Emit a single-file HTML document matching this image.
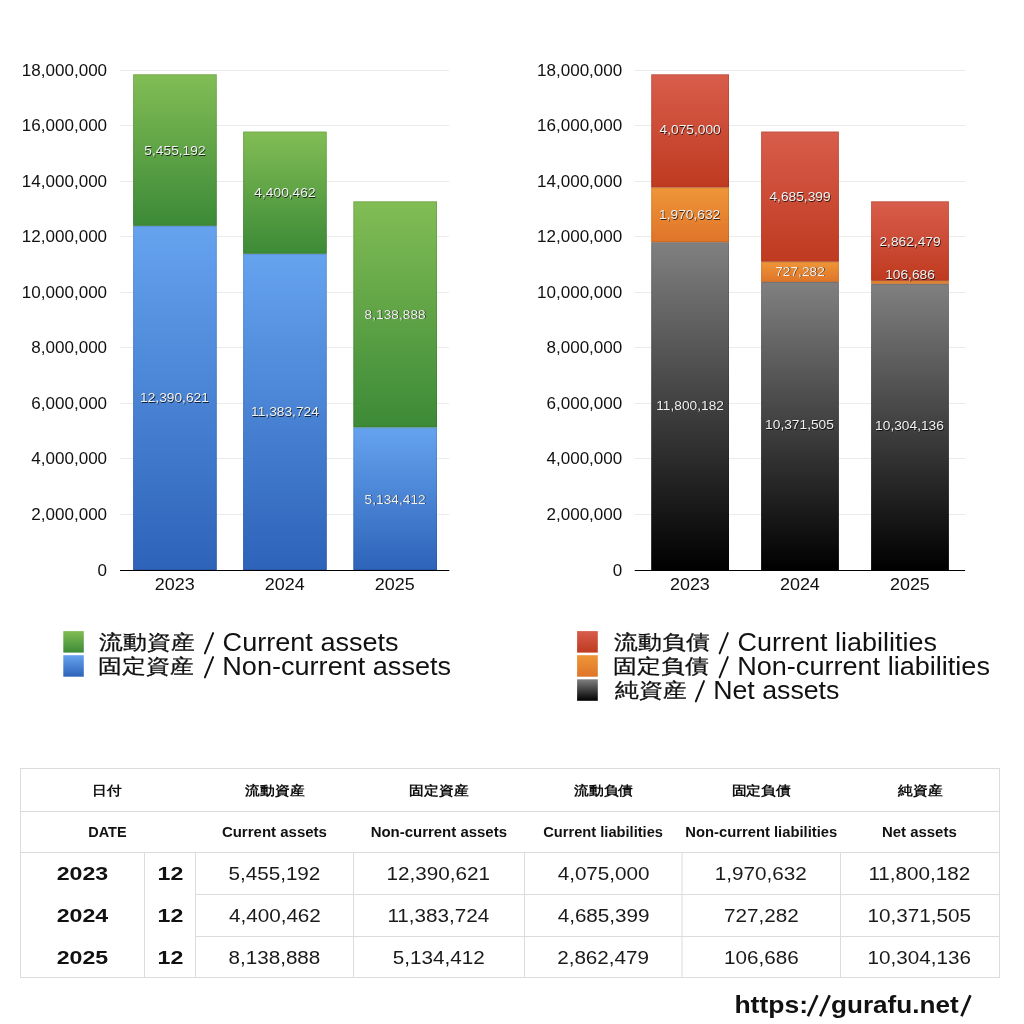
<!DOCTYPE html>
<html><head><meta charset="utf-8"><style>
html,body{margin:0;padding:0;background:#fff;width:1024px;height:1024px;overflow:hidden}
svg{display:block;will-change:transform}
text{font-family:"Liberation Sans", sans-serif}
</style></head><body>
<svg width="1024" height="1024" viewBox="0 0 1024 1024">
<defs>
<linearGradient id="g_green" x1="0" y1="0" x2="0" y2="1"><stop offset="0" stop-color="#82bd55"/><stop offset="1" stop-color="#3c8a37"/></linearGradient>
<linearGradient id="g_blue" x1="0" y1="0" x2="0" y2="1"><stop offset="0" stop-color="#66a3ef"/><stop offset="1" stop-color="#2d63b9"/></linearGradient>
<linearGradient id="g_red" x1="0" y1="0" x2="0" y2="1"><stop offset="0" stop-color="#d85d4b"/><stop offset="1" stop-color="#bf3a20"/></linearGradient>
<linearGradient id="g_orange" x1="0" y1="0" x2="0" y2="1"><stop offset="0" stop-color="#ef9638"/><stop offset="1" stop-color="#df7429"/></linearGradient>
<linearGradient id="g_gray" x1="0" y1="0" x2="0" y2="1"><stop offset="0" stop-color="#808080"/><stop offset="1" stop-color="#000000"/></linearGradient>
<filter id="shb" x="-10%" y="-30%" width="120%" height="160%"><feGaussianBlur stdDeviation="0.55"/></filter>
</defs>
<rect x="120" y="514" width="329.3" height="1" fill="#ebebeb"/>
<rect x="120" y="458" width="329.3" height="1" fill="#ebebeb"/>
<rect x="120" y="403" width="329.3" height="1" fill="#ebebeb"/>
<rect x="120" y="347" width="329.3" height="1" fill="#ebebeb"/>
<rect x="120" y="292" width="329.3" height="1" fill="#ebebeb"/>
<rect x="120" y="236" width="329.3" height="1" fill="#ebebeb"/>
<rect x="120" y="181" width="329.3" height="1" fill="#ebebeb"/>
<rect x="120" y="125" width="329.3" height="1" fill="#ebebeb"/>
<rect x="120" y="70" width="329.3" height="1" fill="#ebebeb"/>
<rect x="634.7" y="514" width="330.4" height="1" fill="#ebebeb"/>
<rect x="634.7" y="458" width="330.4" height="1" fill="#ebebeb"/>
<rect x="634.7" y="403" width="330.4" height="1" fill="#ebebeb"/>
<rect x="634.7" y="347" width="330.4" height="1" fill="#ebebeb"/>
<rect x="634.7" y="292" width="330.4" height="1" fill="#ebebeb"/>
<rect x="634.7" y="236" width="330.4" height="1" fill="#ebebeb"/>
<rect x="634.7" y="181" width="330.4" height="1" fill="#ebebeb"/>
<rect x="634.7" y="125" width="330.4" height="1" fill="#ebebeb"/>
<rect x="634.7" y="70" width="330.4" height="1" fill="#ebebeb"/>
<rect x="133.10" y="225.82" width="83.70" height="344.18" fill="url(#g_blue)"/>
<rect x="133.10" y="74.28" width="83.70" height="151.53" fill="url(#g_green)"/>
<rect x="243.10" y="253.79" width="83.70" height="316.21" fill="url(#g_blue)"/>
<rect x="243.10" y="131.55" width="83.70" height="122.24" fill="url(#g_green)"/>
<rect x="353.30" y="427.38" width="83.70" height="142.62" fill="url(#g_blue)"/>
<rect x="353.30" y="201.30" width="83.70" height="226.08" fill="url(#g_green)"/>
<rect x="651.20" y="242.22" width="77.80" height="327.78" fill="url(#g_gray)"/>
<rect x="651.20" y="187.48" width="77.80" height="54.74" fill="url(#g_orange)"/>
<rect x="651.20" y="74.28" width="77.80" height="113.19" fill="url(#g_red)"/>
<rect x="761.10" y="281.90" width="77.80" height="288.10" fill="url(#g_gray)"/>
<rect x="761.10" y="261.70" width="77.80" height="20.20" fill="url(#g_orange)"/>
<rect x="761.10" y="131.55" width="77.80" height="130.15" fill="url(#g_red)"/>
<rect x="871.10" y="283.77" width="77.80" height="286.23" fill="url(#g_gray)"/>
<rect x="871.10" y="280.81" width="77.80" height="2.96" fill="url(#g_orange)"/>
<rect x="871.10" y="201.30" width="77.80" height="79.51" fill="url(#g_red)"/>
<rect x="133.60" y="226.32" width="82.70" height="343.18" fill="none" stroke="#000" stroke-opacity="0.1" stroke-width="1"/>
<rect x="133.60" y="74.78" width="82.70" height="150.53" fill="none" stroke="#000" stroke-opacity="0.1" stroke-width="1"/>
<rect x="243.60" y="254.29" width="82.70" height="315.21" fill="none" stroke="#000" stroke-opacity="0.1" stroke-width="1"/>
<rect x="243.60" y="132.05" width="82.70" height="121.24" fill="none" stroke="#000" stroke-opacity="0.1" stroke-width="1"/>
<rect x="353.80" y="427.88" width="82.70" height="141.62" fill="none" stroke="#000" stroke-opacity="0.1" stroke-width="1"/>
<rect x="353.80" y="201.80" width="82.70" height="225.08" fill="none" stroke="#000" stroke-opacity="0.1" stroke-width="1"/>
<rect x="651.70" y="242.72" width="76.80" height="326.78" fill="none" stroke="#000" stroke-opacity="0.1" stroke-width="1"/>
<rect x="651.70" y="187.98" width="76.80" height="53.74" fill="none" stroke="#000" stroke-opacity="0.1" stroke-width="1"/>
<rect x="651.70" y="74.78" width="76.80" height="112.19" fill="none" stroke="#000" stroke-opacity="0.1" stroke-width="1"/>
<rect x="761.60" y="282.40" width="76.80" height="287.10" fill="none" stroke="#000" stroke-opacity="0.1" stroke-width="1"/>
<rect x="761.60" y="262.20" width="76.80" height="19.20" fill="none" stroke="#000" stroke-opacity="0.1" stroke-width="1"/>
<rect x="761.60" y="132.05" width="76.80" height="129.15" fill="none" stroke="#000" stroke-opacity="0.1" stroke-width="1"/>
<rect x="871.60" y="284.27" width="76.80" height="285.23" fill="none" stroke="#000" stroke-opacity="0.1" stroke-width="1"/>
<rect x="871.60" y="281.31" width="76.80" height="1.96" fill="none" stroke="#000" stroke-opacity="0.1" stroke-width="1"/>
<rect x="871.60" y="201.80" width="76.80" height="78.51" fill="none" stroke="#000" stroke-opacity="0.1" stroke-width="1"/>
<rect x="120" y="570" width="329.3" height="1" fill="#000"/>
<rect x="634.7" y="570" width="330.4" height="1" fill="#000"/>
<rect x="63.3" y="631.1" width="20.5" height="21.5" fill="url(#g_green)"/>
<rect x="63.3" y="655.2" width="20.5" height="21.5" fill="url(#g_blue)"/>
<rect x="577.1" y="631.1" width="20.7" height="21.5" fill="url(#g_red)"/>
<rect x="577.1" y="655.2" width="20.7" height="21.5" fill="url(#g_orange)"/>
<rect x="577.1" y="679.3000000000001" width="20.7" height="21.5" fill="url(#g_gray)"/>
<rect x="20" y="768" width="980" height="1" fill="#dcdcdc"/>
<rect x="20" y="811" width="980" height="1" fill="#dcdcdc"/>
<rect x="20" y="852" width="980" height="1" fill="#dcdcdc"/>
<rect x="20" y="977" width="980" height="1" fill="#dcdcdc"/>
<rect x="195" y="894" width="805" height="1" fill="#dcdcdc"/>
<rect x="195" y="936" width="805" height="1" fill="#dcdcdc"/>
<rect x="20" y="768" width="1" height="210" fill="#dcdcdc"/>
<rect x="999" y="768" width="1" height="210" fill="#dcdcdc"/>
<rect x="144" y="852" width="1" height="126" fill="#dcdcdc"/>
<rect x="195" y="852" width="1" height="126" fill="#dcdcdc"/>
<rect x="353" y="852" width="1" height="126" fill="#dcdcdc"/>
<rect x="524" y="852" width="1" height="126" fill="#dcdcdc"/>
<rect x="681.5" y="852" width="1" height="126" fill="#dcdcdc"/>
<rect x="840" y="852" width="1" height="126" fill="#dcdcdc"/>
<g transform="translate(107.10,575.90) scale(1.0425,1)"><text text-anchor="end" font-size="16.36" font-weight="normal" fill="#111">0</text></g>
<g transform="translate(622.30,575.90) scale(1.0425,1)"><text text-anchor="end" font-size="16.36" font-weight="normal" fill="#111">0</text></g>
<g transform="translate(107.10,519.90) scale(1.0425,1)"><text text-anchor="end" font-size="16.36" font-weight="normal" fill="#111">2,000,000</text></g>
<g transform="translate(622.30,519.90) scale(1.0425,1)"><text text-anchor="end" font-size="16.36" font-weight="normal" fill="#111">2,000,000</text></g>
<g transform="translate(107.10,463.90) scale(1.0425,1)"><text text-anchor="end" font-size="16.36" font-weight="normal" fill="#111">4,000,000</text></g>
<g transform="translate(622.30,463.90) scale(1.0425,1)"><text text-anchor="end" font-size="16.36" font-weight="normal" fill="#111">4,000,000</text></g>
<g transform="translate(107.10,408.90) scale(1.0425,1)"><text text-anchor="end" font-size="16.36" font-weight="normal" fill="#111">6,000,000</text></g>
<g transform="translate(622.30,408.90) scale(1.0425,1)"><text text-anchor="end" font-size="16.36" font-weight="normal" fill="#111">6,000,000</text></g>
<g transform="translate(107.10,352.90) scale(1.0425,1)"><text text-anchor="end" font-size="16.36" font-weight="normal" fill="#111">8,000,000</text></g>
<g transform="translate(622.30,352.90) scale(1.0425,1)"><text text-anchor="end" font-size="16.36" font-weight="normal" fill="#111">8,000,000</text></g>
<g transform="translate(107.10,297.90) scale(1.0425,1)"><text text-anchor="end" font-size="16.36" font-weight="normal" fill="#111">10,000,000</text></g>
<g transform="translate(622.30,297.90) scale(1.0425,1)"><text text-anchor="end" font-size="16.36" font-weight="normal" fill="#111">10,000,000</text></g>
<g transform="translate(107.10,241.90) scale(1.0425,1)"><text text-anchor="end" font-size="16.36" font-weight="normal" fill="#111">12,000,000</text></g>
<g transform="translate(622.30,241.90) scale(1.0425,1)"><text text-anchor="end" font-size="16.36" font-weight="normal" fill="#111">12,000,000</text></g>
<g transform="translate(107.10,186.90) scale(1.0425,1)"><text text-anchor="end" font-size="16.36" font-weight="normal" fill="#111">14,000,000</text></g>
<g transform="translate(622.30,186.90) scale(1.0425,1)"><text text-anchor="end" font-size="16.36" font-weight="normal" fill="#111">14,000,000</text></g>
<g transform="translate(107.10,130.90) scale(1.0425,1)"><text text-anchor="end" font-size="16.36" font-weight="normal" fill="#111">16,000,000</text></g>
<g transform="translate(622.30,130.90) scale(1.0425,1)"><text text-anchor="end" font-size="16.36" font-weight="normal" fill="#111">16,000,000</text></g>
<g transform="translate(107.10,75.90) scale(1.0425,1)"><text text-anchor="end" font-size="16.36" font-weight="normal" fill="#111">18,000,000</text></g>
<g transform="translate(622.30,75.90) scale(1.0425,1)"><text text-anchor="end" font-size="16.36" font-weight="normal" fill="#111">18,000,000</text></g>
<g transform="translate(174.70,589.90) scale(1.0472,1)"><text text-anchor="middle" font-size="17.14" font-weight="normal" fill="#111">2023</text></g>
<g transform="translate(689.90,589.90) scale(1.0472,1)"><text text-anchor="middle" font-size="17.14" font-weight="normal" fill="#111">2023</text></g>
<g transform="translate(284.70,589.90) scale(1.0472,1)"><text text-anchor="middle" font-size="17.14" font-weight="normal" fill="#111">2024</text></g>
<g transform="translate(799.90,589.90) scale(1.0472,1)"><text text-anchor="middle" font-size="17.14" font-weight="normal" fill="#111">2024</text></g>
<g transform="translate(394.70,589.90) scale(1.0472,1)"><text text-anchor="middle" font-size="17.14" font-weight="normal" fill="#111">2025</text></g>
<g transform="translate(909.90,589.90) scale(1.0472,1)"><text text-anchor="middle" font-size="17.14" font-weight="normal" fill="#111">2025</text></g>
<g transform="translate(175.15,402.80) scale(1.0477,1)"><text text-anchor="middle" font-size="13.14" font-weight="normal" fill="#000" fill-opacity="0.75" filter="url(#shb)">12,390,621</text></g>
<g transform="translate(174.45,402.00) scale(1.0477,1)"><text text-anchor="middle" font-size="13.14" font-weight="normal" fill="#f2f2f2">12,390,621</text></g>
<g transform="translate(175.65,155.80) scale(1.0477,1)"><text text-anchor="middle" font-size="13.14" font-weight="normal" fill="#000" fill-opacity="0.75" filter="url(#shb)">5,455,192</text></g>
<g transform="translate(174.95,155.00) scale(1.0477,1)"><text text-anchor="middle" font-size="13.14" font-weight="normal" fill="#f2f2f2">5,455,192</text></g>
<g transform="translate(285.65,417.20) scale(1.0477,1)"><text text-anchor="middle" font-size="13.14" font-weight="normal" fill="#000" fill-opacity="0.75" filter="url(#shb)">11,383,724</text></g>
<g transform="translate(284.95,416.40) scale(1.0477,1)"><text text-anchor="middle" font-size="13.14" font-weight="normal" fill="#f2f2f2">11,383,724</text></g>
<g transform="translate(285.65,197.50) scale(1.0477,1)"><text text-anchor="middle" font-size="13.14" font-weight="normal" fill="#000" fill-opacity="0.75" filter="url(#shb)">4,400,462</text></g>
<g transform="translate(284.95,196.70) scale(1.0477,1)"><text text-anchor="middle" font-size="13.14" font-weight="normal" fill="#f2f2f2">4,400,462</text></g>
<g transform="translate(395.85,504.30) scale(1.0477,1)"><text text-anchor="middle" font-size="13.14" font-weight="normal" fill="#000" fill-opacity="0.75" filter="url(#shb)">5,134,412</text></g>
<g transform="translate(395.15,503.50) scale(1.0477,1)"><text text-anchor="middle" font-size="13.14" font-weight="normal" fill="#f2f2f2">5,134,412</text></g>
<g transform="translate(395.85,319.40) scale(1.0477,1)"><text text-anchor="middle" font-size="13.14" font-weight="normal" fill="#000" fill-opacity="0.75" filter="url(#shb)">8,138,888</text></g>
<g transform="translate(395.15,318.60) scale(1.0477,1)"><text text-anchor="middle" font-size="13.14" font-weight="normal" fill="#f2f2f2">8,138,888</text></g>
<g transform="translate(690.80,410.40) scale(1.0477,1)"><text text-anchor="middle" font-size="13.14" font-weight="normal" fill="#000" fill-opacity="0.75" filter="url(#shb)">11,800,182</text></g>
<g transform="translate(690.10,409.60) scale(1.0477,1)"><text text-anchor="middle" font-size="13.14" font-weight="normal" fill="#f2f2f2">11,800,182</text></g>
<g transform="translate(690.30,219.90) scale(1.0477,1)"><text text-anchor="middle" font-size="13.14" font-weight="normal" fill="#000" fill-opacity="0.75" filter="url(#shb)">1,970,632</text></g>
<g transform="translate(689.60,219.10) scale(1.0477,1)"><text text-anchor="middle" font-size="13.14" font-weight="normal" fill="#f2f2f2">1,970,632</text></g>
<g transform="translate(690.80,135.15) scale(1.0477,1)"><text text-anchor="middle" font-size="13.14" font-weight="normal" fill="#000" fill-opacity="0.75" filter="url(#shb)">4,075,000</text></g>
<g transform="translate(690.10,134.35) scale(1.0477,1)"><text text-anchor="middle" font-size="13.14" font-weight="normal" fill="#f2f2f2">4,075,000</text></g>
<g transform="translate(800.20,430.10) scale(1.0477,1)"><text text-anchor="middle" font-size="13.14" font-weight="normal" fill="#000" fill-opacity="0.75" filter="url(#shb)">10,371,505</text></g>
<g transform="translate(799.50,429.30) scale(1.0477,1)"><text text-anchor="middle" font-size="13.14" font-weight="normal" fill="#f2f2f2">10,371,505</text></g>
<g transform="translate(800.70,276.30) scale(1.0477,1)"><text text-anchor="middle" font-size="13.14" font-weight="normal" fill="#000" fill-opacity="0.75" filter="url(#shb)">727,282</text></g>
<g transform="translate(800.00,275.50) scale(1.0477,1)"><text text-anchor="middle" font-size="13.14" font-weight="normal" fill="#f2f2f2">727,282</text></g>
<g transform="translate(800.70,201.50) scale(1.0477,1)"><text text-anchor="middle" font-size="13.14" font-weight="normal" fill="#000" fill-opacity="0.75" filter="url(#shb)">4,685,399</text></g>
<g transform="translate(800.00,200.70) scale(1.0477,1)"><text text-anchor="middle" font-size="13.14" font-weight="normal" fill="#f2f2f2">4,685,399</text></g>
<g transform="translate(910.20,431.00) scale(1.0477,1)"><text text-anchor="middle" font-size="13.14" font-weight="normal" fill="#000" fill-opacity="0.75" filter="url(#shb)">10,304,136</text></g>
<g transform="translate(909.50,430.20) scale(1.0477,1)"><text text-anchor="middle" font-size="13.14" font-weight="normal" fill="#f2f2f2">10,304,136</text></g>
<g transform="translate(910.70,279.90) scale(1.0477,1)"><text text-anchor="middle" font-size="13.14" font-weight="normal" fill="#000" fill-opacity="0.75" filter="url(#shb)">106,686</text></g>
<g transform="translate(910.00,279.10) scale(1.0477,1)"><text text-anchor="middle" font-size="13.14" font-weight="normal" fill="#f2f2f2">106,686</text></g>
<g transform="translate(910.70,246.50) scale(1.0477,1)"><text text-anchor="middle" font-size="13.14" font-weight="normal" fill="#000" fill-opacity="0.75" filter="url(#shb)">2,862,479</text></g>
<g transform="translate(910.00,245.70) scale(1.0477,1)"><text text-anchor="middle" font-size="13.14" font-weight="normal" fill="#f2f2f2">2,862,479</text></g>
<g transform="translate(99.40,649.20) scale(1.1915,1)"><text text-anchor="start" font-size="20.10" font-weight="normal" fill="#111" stroke="#111" stroke-width="0.3">流動資産</text></g>
<g transform="translate(222.60,651.00) scale(1.0591,1)"><text text-anchor="start" font-size="25.57" font-weight="normal" fill="#111">Current assets</text></g>
<g transform="translate(98.40,673.20) scale(1.1915,1)"><text text-anchor="start" font-size="20.10" font-weight="normal" fill="#111" stroke="#111" stroke-width="0.3">固定資産</text></g>
<g transform="translate(222.30,674.80) scale(1.0596,1)"><text text-anchor="start" font-size="25.57" font-weight="normal" fill="#111">Non-current assets</text></g>
<g transform="translate(614.40,649.20) scale(1.1915,1)"><text text-anchor="start" font-size="20.10" font-weight="normal" fill="#111" stroke="#111" stroke-width="0.3">流動負債</text></g>
<g transform="translate(737.60,651.00) scale(1.0556,1)"><text text-anchor="start" font-size="25.57" font-weight="normal" fill="#111">Current liabilities</text></g>
<g transform="translate(613.40,673.20) scale(1.1915,1)"><text text-anchor="start" font-size="20.10" font-weight="normal" fill="#111" stroke="#111" stroke-width="0.3">固定負債</text></g>
<g transform="translate(737.20,675.00) scale(1.0589,1)"><text text-anchor="start" font-size="25.57" font-weight="normal" fill="#111">Non-current liabilities</text></g>
<g transform="translate(615.40,697.20) scale(1.1915,1)"><text text-anchor="start" font-size="20.10" font-weight="normal" fill="#111" stroke="#111" stroke-width="0.3">純資産</text></g>
<g transform="translate(713.20,699.00) scale(1.0449,1)"><text text-anchor="start" font-size="25.57" font-weight="normal" fill="#111">Net assets</text></g>
<g transform="translate(106.90,794.80) scale(1.1336,1)"><text text-anchor="middle" font-size="12.86" font-weight="bold" fill="#111">日付</text></g>
<g transform="translate(274.90,794.80) scale(1.1336,1)"><text text-anchor="middle" font-size="12.86" font-weight="bold" fill="#111">流動資産</text></g>
<g transform="translate(438.80,794.80) scale(1.1336,1)"><text text-anchor="middle" font-size="12.86" font-weight="bold" fill="#111">固定資産</text></g>
<g transform="translate(603.60,794.80) scale(1.1336,1)"><text text-anchor="middle" font-size="12.86" font-weight="bold" fill="#111">流動負債</text></g>
<g transform="translate(761.30,794.80) scale(1.1336,1)"><text text-anchor="middle" font-size="12.86" font-weight="bold" fill="#111">固定負債</text></g>
<g transform="translate(920.30,794.80) scale(1.1336,1)"><text text-anchor="middle" font-size="12.86" font-weight="bold" fill="#111">純資産</text></g>
<g transform="translate(107.40,837.10) scale(1.0139,1)"><text text-anchor="middle" font-size="14.29" font-weight="bold" fill="#111">DATE</text></g>
<g transform="translate(274.40,837.10) scale(1.0510,1)"><text text-anchor="middle" font-size="14.29" font-weight="bold" fill="#111">Current assets</text></g>
<g transform="translate(438.80,837.10) scale(1.0477,1)"><text text-anchor="middle" font-size="14.29" font-weight="bold" fill="#111">Non-current assets</text></g>
<g transform="translate(603.10,837.10) scale(1.0270,1)"><text text-anchor="middle" font-size="14.29" font-weight="bold" fill="#111">Current liabilities</text></g>
<g transform="translate(761.30,837.10) scale(1.0352,1)"><text text-anchor="middle" font-size="14.29" font-weight="bold" fill="#111">Non-current liabilities</text></g>
<g transform="translate(919.30,837.10) scale(1.0471,1)"><text text-anchor="middle" font-size="14.29" font-weight="bold" fill="#111">Net assets</text></g>
<g transform="translate(82.50,879.90) scale(1.2283,1)"><text text-anchor="middle" font-size="18.86" font-weight="bold" fill="#111">2023</text></g>
<g transform="translate(170.40,879.90) scale(1.2316,1)"><text text-anchor="middle" font-size="18.86" font-weight="bold" fill="#111">12</text></g>
<g transform="translate(274.40,879.90) scale(1.0960,1)"><text text-anchor="middle" font-size="18.86" font-weight="normal" fill="#1a1a1a">5,455,192</text></g>
<g transform="translate(438.30,879.90) scale(1.0960,1)"><text text-anchor="middle" font-size="18.86" font-weight="normal" fill="#1a1a1a">12,390,621</text></g>
<g transform="translate(603.60,879.90) scale(1.0960,1)"><text text-anchor="middle" font-size="18.86" font-weight="normal" fill="#1a1a1a">4,075,000</text></g>
<g transform="translate(760.80,879.90) scale(1.0960,1)"><text text-anchor="middle" font-size="18.86" font-weight="normal" fill="#1a1a1a">1,970,632</text></g>
<g transform="translate(919.30,879.90) scale(1.0960,1)"><text text-anchor="middle" font-size="18.86" font-weight="normal" fill="#1a1a1a">11,800,182</text></g>
<g transform="translate(82.50,922.30) scale(1.2283,1)"><text text-anchor="middle" font-size="18.86" font-weight="bold" fill="#111">2024</text></g>
<g transform="translate(170.40,922.30) scale(1.2316,1)"><text text-anchor="middle" font-size="18.86" font-weight="bold" fill="#111">12</text></g>
<g transform="translate(274.90,922.30) scale(1.0960,1)"><text text-anchor="middle" font-size="18.86" font-weight="normal" fill="#1a1a1a">4,400,462</text></g>
<g transform="translate(438.30,922.30) scale(1.0960,1)"><text text-anchor="middle" font-size="18.86" font-weight="normal" fill="#1a1a1a">11,383,724</text></g>
<g transform="translate(603.60,922.30) scale(1.0960,1)"><text text-anchor="middle" font-size="18.86" font-weight="normal" fill="#1a1a1a">4,685,399</text></g>
<g transform="translate(761.30,922.30) scale(1.0960,1)"><text text-anchor="middle" font-size="18.86" font-weight="normal" fill="#1a1a1a">727,282</text></g>
<g transform="translate(919.30,922.30) scale(1.0960,1)"><text text-anchor="middle" font-size="18.86" font-weight="normal" fill="#1a1a1a">10,371,505</text></g>
<g transform="translate(82.50,964.30) scale(1.2283,1)"><text text-anchor="middle" font-size="18.86" font-weight="bold" fill="#111">2025</text></g>
<g transform="translate(170.40,964.30) scale(1.2316,1)"><text text-anchor="middle" font-size="18.86" font-weight="bold" fill="#111">12</text></g>
<g transform="translate(274.40,964.30) scale(1.0960,1)"><text text-anchor="middle" font-size="18.86" font-weight="normal" fill="#1a1a1a">8,138,888</text></g>
<g transform="translate(438.80,964.30) scale(1.0960,1)"><text text-anchor="middle" font-size="18.86" font-weight="normal" fill="#1a1a1a">5,134,412</text></g>
<g transform="translate(603.10,964.30) scale(1.0960,1)"><text text-anchor="middle" font-size="18.86" font-weight="normal" fill="#1a1a1a">2,862,479</text></g>
<g transform="translate(761.30,964.30) scale(1.0960,1)"><text text-anchor="middle" font-size="18.86" font-weight="normal" fill="#1a1a1a">106,686</text></g>
<g transform="translate(919.30,964.30) scale(1.0960,1)"><text text-anchor="middle" font-size="18.86" font-weight="normal" fill="#1a1a1a">10,304,136</text></g>
<g transform="translate(734.40,1013.00) scale(1.1065,1)"><text text-anchor="start" font-size="24.00" font-weight="bold" fill="#111">https:</text></g>
<g transform="translate(831.00,1013.00) scale(1.0888,1)"><text text-anchor="start" font-size="24.00" font-weight="bold" fill="#111">gurafu.net</text></g>
<line x1="807.90" y1="1016.20" x2="817.40" y2="995.20" stroke="#111" stroke-width="2.6"/>
<line x1="820.20" y1="1016.20" x2="829.70" y2="995.20" stroke="#111" stroke-width="2.6"/>
<line x1="961.50" y1="1016.20" x2="970.40" y2="995.20" stroke="#111" stroke-width="2.6"/>
<line x1="204.90" y1="653.40" x2="213.10" y2="633.10" stroke="#111" stroke-width="1.9" stroke-linecap="round"/>
<line x1="204.90" y1="677.40" x2="213.10" y2="657.10" stroke="#111" stroke-width="1.9" stroke-linecap="round"/>
<line x1="719.60" y1="653.40" x2="727.80" y2="633.10" stroke="#111" stroke-width="1.9" stroke-linecap="round"/>
<line x1="719.60" y1="677.40" x2="727.80" y2="657.10" stroke="#111" stroke-width="1.9" stroke-linecap="round"/>
<line x1="695.80" y1="701.40" x2="704.00" y2="681.10" stroke="#111" stroke-width="1.9" stroke-linecap="round"/>
</svg>
</body></html>
